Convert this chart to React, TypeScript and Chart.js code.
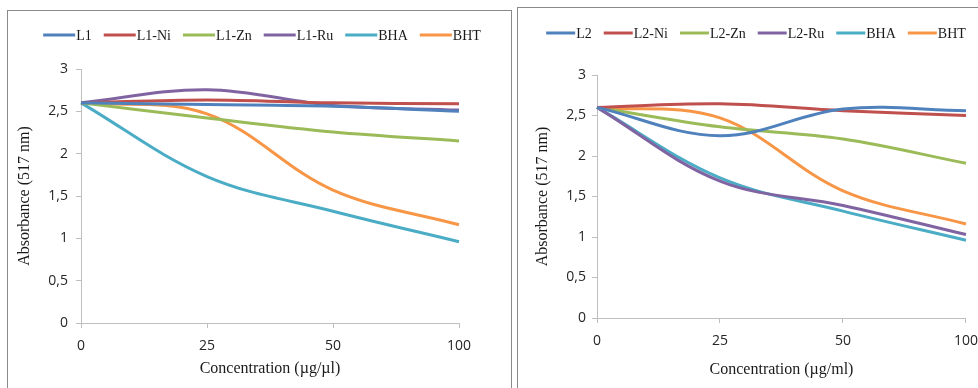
import React, { useEffect, useRef } from "react";
import { Chart, registerables } from "chart.js";

Chart.register(...registerables);

// ---------- data ----------
const categories = ["0", "25", "50", "100"];

const leftLabels = ["L1", "L1-Ni", "L1-Zn", "L1-Ru", "BHA", "BHT"];
const L1 = [2.6, 2.58, 2.56, 2.5];
const L1Ni = [2.6, 2.635, 2.6, 2.59];
const L1Zn = [2.6, 2.42, 2.255, 2.15];
const L1Ru = [2.6, 2.755, 2.57, 2.515];
const BHA = [2.6, 1.73, 1.32, 0.96];
const BHT = [2.6, 2.47, 1.57, 1.16];

const rightLabels = ["L2", "L2-Ni", "L2-Zn", "L2-Ru", "BHA", "BHT"];
const L2 = [2.6, 2.25, 2.58, 2.56];
const L2Ni = [2.6, 2.645, 2.56, 2.5];
const L2Zn = [2.6, 2.36, 2.21, 1.91];
const L2Ru = [2.6, 1.69, 1.39, 1.03];

const seriesColors = ["#4F81BD", "#C0504D", "#9BBB59", "#8064A2", "#4BACC6", "#F79646"];

const leftTitleX = "Concentration (µg/µl)";
const rightTitleX = "Concentration (µg/ml)";
const titleY = "Absorbance (517 nm)";

const SERIF = '"Liberation Serif", "Times New Roman", serif';
const SANS = '"Open Sans", "Noto Sans", sans-serif';

function legendPlugin(cx: number, cy: number, lineLen: number, gap: number, itemGap: number) {
  return {
    id: "customLegend",
    afterDraw(chart: any) {
      const ctx = chart.ctx as CanvasRenderingContext2D;
      ctx.save();
      ctx.font = `14px ${SERIF}`;
      const items = chart.data.datasets.map((ds: any) => ({
        label: ds.label as string,
        color: ds.borderColor as string,
        w: ctx.measureText(ds.label).width,
      }));
      const total =
        items.reduce((s: number, it: any) => s + lineLen + gap + it.w, 0) + itemGap * (items.length - 1);
      let x = cx - total / 2;
      for (const it of items) {
        ctx.strokeStyle = it.color;
        ctx.lineWidth = 3;
        ctx.beginPath();
        ctx.moveTo(x, cy);
        ctx.lineTo(x + lineLen, cy);
        ctx.stroke();
        x += lineLen + gap;
        ctx.fillStyle = "#1a1a1a";
        ctx.textBaseline = "middle";
        ctx.textAlign = "left";
        ctx.fillText(it.label, x, cy + 1.5);
        x += it.w + itemGap;
      }
      ctx.restore();
    },
  };
}

interface PanelCfg {
  labels: string[];
  series: number[][];
  xTitle: string;
  width: number;
  height: number;
  plotLeft: number;
  plotTop: number;
  plotBottom: number;
  padRight: number;
  yTickPad: number;
  yTitlePad: number;
  xTickPad: number;
  xTitlePad: number;
  legendCx: number;
  legendCy: number;
  legendLine: number;
}

function Panel({ cfg }: { cfg: PanelCfg }) {
  const ref = useRef<HTMLCanvasElement | null>(null);
  useEffect(() => {
    if (!ref.current) return;
    const axisColor = "#BFBFBF";
    const chart = new Chart(ref.current, {
      type: "line",
      data: {
        labels: categories,
        datasets: cfg.labels.map((lab, i) => ({
          label: lab,
          data: cfg.series[i],
          borderColor: seriesColors[i],
          backgroundColor: seriesColors[i],
          borderWidth: 3,
          pointRadius: 0,
          pointHoverRadius: 0,
          tension: 0.36,
          fill: false,
        })),
      },
      options: {
        responsive: false,
        animation: false,
        devicePixelRatio: 1,
        layout: { padding: { top: cfg.plotTop, right: cfg.padRight, bottom: 0, left: 0 } },
        plugins: { legend: { display: false }, tooltip: { enabled: false } },
        scales: {
          x: {
            type: "category",
            offset: false,
            grid: { display: true, drawOnChartArea: false, drawTicks: true, tickLength: 5, color: axisColor, offset: false },
            border: { display: true, color: axisColor, width: 1 },
            ticks: { color: "#262626", padding: cfg.xTickPad, font: { family: SANS, size: 14 }, maxRotation: 0 },
            title: {
              display: true,
              text: cfg.xTitle,
              color: "#1a1a1a",
              font: { family: SERIF, size: 16 },
              padding: { top: 0, bottom: cfg.xTitlePad },
            },
            afterFit: (s: any) => {
              s.height = cfg.height - cfg.plotBottom;
            },
          },
          y: {
            type: "linear",
            min: 0,
            max: 3,
            grid: { display: true, drawOnChartArea: false, drawTicks: true, tickLength: 5, color: axisColor },
            border: { display: true, color: axisColor, width: 1 },
            ticks: {
              stepSize: 0.5,
              color: "#262626",
              padding: cfg.yTickPad,
              font: { family: SANS, size: 14 },
              callback: (v: any) => String(v).replace(".", ","),
            },
            title: {
              display: true,
              text: titleY,
              color: "#1a1a1a",
              font: { family: SERIF, size: 16 },
              padding: { top: cfg.yTitlePad, bottom: 0 },
            },
            afterFit: (s: any) => {
              s.width = cfg.plotLeft;
            },
          },
        },
      } as any,
      plugins: [legendPlugin(cfg.legendCx, cfg.legendCy, cfg.legendLine, 1, 12)],
    });
    return () => chart.destroy();
  }, [cfg]);
  return (
    <canvas
      ref={ref}
      width={cfg.width}
      height={cfg.height}
      style={{ display: "block", width: cfg.width, height: cfg.height }}
    />
  );
}

const leftCfg: PanelCfg = {
  labels: leftLabels,
  series: [L1, L1Ni, L1Zn, L1Ru, BHA, BHT],
  xTitle: leftTitleX,
  width: 503,
  height: 377,
  plotLeft: 73,
  plotTop: 58,
  plotBottom: 312,
  padRight: 52,
  yTickPad: 8,
  yTitlePad: 7.4,
  xTickPad: 10,
  xTitlePad: 9.4,
  legendCx: 254,
  legendCy: 24,
  legendLine: 32,
};

const rightCfg: PanelCfg = {
  labels: rightLabels,
  series: [L2, L2Ni, L2Zn, L2Ru, BHA, BHT],
  xTitle: rightTitleX,
  width: 470,
  height: 380,
  plotLeft: 79,
  plotTop: 67,
  plotBottom: 310,
  padRight: 20,
  yTickPad: 6,
  yTitlePad: 15.4,
  xTickPad: 10,
  xTitlePad: 8.4,
  legendCx: 238,
  legendCy: 25,
  legendLine: 29,
};

export default function App() {
  return (
    <div style={{ position: "fixed", inset: 0, overflow: "hidden", background: "#fff" }}>
      <div
        style={{
          position: "absolute",
          left: 7,
          top: 10,
          width: 505,
          height: 400,
          border: "1px solid #8a8a8a",
          boxSizing: "border-box",
          background: "#fff",
        }}
      >
        <Panel cfg={leftCfg} />
      </div>
      <div
        style={{
          position: "absolute",
          left: 517,
          top: 7,
          width: 480,
          height: 400,
          border: "1px solid #8a8a8a",
          boxSizing: "border-box",
          background: "#fff",
        }}
      >
        <Panel cfg={rightCfg} />
      </div>
    </div>
  );
}
